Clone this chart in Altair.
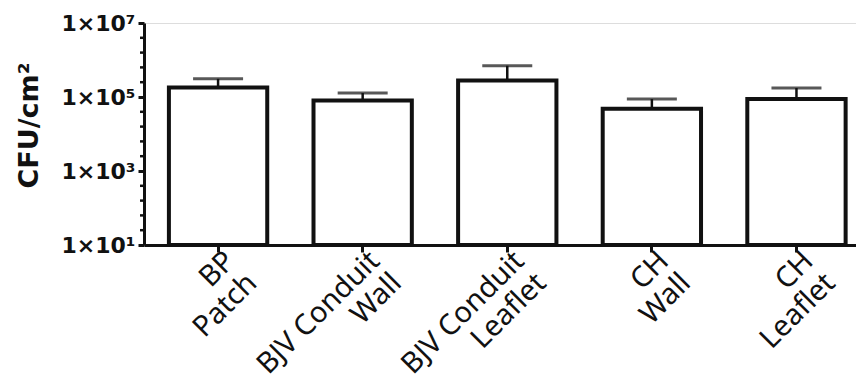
import altair as alt
import pandas as pd

# ---- data ----
line1 = ["BP", "BJV Conduit", "BJV Conduit", "CH", "CH"]
line2 = ["Patch", "Wall", "Leaflet", "Wall", "Leaflet"]
means = [1.8e5, 8.1e4, 2.8e5, 4.8e4, 8.8e4]
upper = [3.1e5, 1.28e5, 7.0e5, 8.8e4, 1.75e5]

ytick_values = [10, 1e3, 1e5, 1e7]
ytick_labels = ["1×10¹", "1×10³", "1×10⁵", "1×10⁷"]
minor_ticks = [10 ** (1 + 0.4 * k) for k in range(16) if k % 5 != 0]

cats = [a + "\n" + b for a, b in zip(line1, line2)]
df = pd.DataFrame({"cat": cats, "value": means, "upper": upper, "base": [10] * len(cats)})
minor_df = pd.DataFrame({"v": minor_ticks})

FONT = "Noto Sans"
BOLD_FONT = "DejaVu Sans"
BLACK = "#111111"

label_expr = " : ".join(
    f"datum.value < {v * 3} ? '{l}'" for v, l in zip(ytick_values[:-1], ytick_labels[:-1])
) + f" : '{ytick_labels[-1]}'"

yscale = alt.Scale(type="log", domain=[10, 1e7], nice=False)
yaxis = alt.Axis(
    title="CFU/cm²",
    values=ytick_values,
    labelExpr=label_expr,
    labelFont=BOLD_FONT, labelFontSize=22, labelFontWeight="bold", labelColor=BLACK,
    titleFont=BOLD_FONT, titleFontSize=27, titleFontWeight="bold", titleColor=BLACK,
    titlePadding=18, titleY=102,
    tickSize=6, tickWidth=3, tickColor=BLACK,
    domainWidth=3, domainColor=BLACK, labelPadding=3,
    grid=False,
)

xscale = alt.Scale(paddingInner=0.32, paddingOuter=0.122, align=0.706)
xaxis = alt.Axis(
    title=None,
    labelExpr="split(datum.label, '\\n')",
    labelAngle=-45, labelAlign="right", labelBaseline="middle",
    labelFont=FONT, labelFontSize=29, labelColor=BLACK, labelLineHeight=31,
    labelPadding=4, labelOffset=12,
    tickSize=7, tickWidth=3, tickColor=BLACK,
    domainWidth=3, domainColor=BLACK,
)

base = alt.Chart(df).encode(
    x=alt.X("cat:N", sort=cats, scale=xscale, axis=xaxis)
)

whisker = base.mark_rule(color=BLACK, strokeWidth=2.5).encode(
    y=alt.Y("value:Q", scale=yscale, axis=yaxis),
    y2="upper:Q",
)
bars = base.mark_bar(fill="white", stroke=BLACK, strokeWidth=4).encode(
    y=alt.Y("value:Q", scale=yscale, axis=yaxis),
    y2="base:Q",
)
cap = base.mark_tick(color=BLACK, thickness=3, size=50).encode(
    y=alt.Y("upper:Q", scale=yscale, axis=yaxis),
)
minor = alt.Chart(minor_df).mark_rule(color=BLACK, strokeWidth=2.5).encode(
    y=alt.Y("v:Q", scale=yscale, axis=yaxis),
    x=alt.value(-4),
    x2=alt.value(0),
)

chart = (
    alt.layer(whisker, bars, cap, minor)
    .properties(width=712, height=222, padding={"left": 7, "top": 4, "right": 0, "bottom": 0})
    .configure_view(stroke=None)
    .configure(background="white")
)

chart.save("out.html", embed_options={"renderer": "svg", "actions": False})
